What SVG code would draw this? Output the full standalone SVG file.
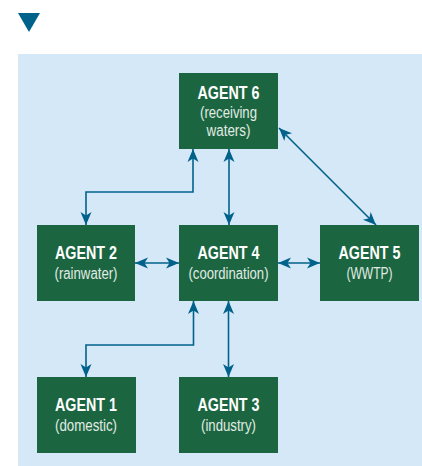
<svg xmlns="http://www.w3.org/2000/svg" width="422" height="466" viewBox="0 0 422 466">
<style>
.bg{fill:#D5E8F8}
.box{fill:#1B6640}
.t{font-family:"Liberation Sans",Arial,sans-serif;font-weight:bold;font-size:17.5px;fill:#FFFFFF;text-anchor:middle}
.s{font-family:"Liberation Sans",Arial,sans-serif;font-size:16px;fill:#E2EBE5;text-anchor:middle}
.c{fill:none;stroke:#00628B;stroke-width:1.6;marker-start:url(#ah);marker-end:url(#ah)}
</style>
<defs>
<marker id="ah" markerUnits="userSpaceOnUse" viewBox="-13 -7 14 14" refX="0" refY="0" markerWidth="14" markerHeight="14" orient="auto-start-reverse">
<path d="M0,0 L-13,-5.5 L-9.5,0 L-13,5.5 Z" fill="#00628B"/>
</marker>
</defs>
<polygon points="18,13 40,13 29,32" fill="#00628B"/>
<rect class="bg" x="18" y="54" width="404" height="412"/>
<g id="connectors">
<path class="c" d="M193,149 V192 H86 V225"/>
<path class="c" d="M229,149 V225"/>
<path class="c" d="M279,128 L376,225"/>
<path class="c" d="M135,263 H179"/>
<path class="c" d="M278,263 H320"/>
<path class="c" d="M193.5,301 V345 H86 V377"/>
<path class="c" d="M228.5,301 V377"/>
</g>
<g id="agent6">
<rect class="box" x="179" y="73" width="99" height="76"/>
<text class="t" x="228.5" y="99" textLength="62" lengthAdjust="spacingAndGlyphs">AGENT 6</text>
<text class="s" x="228.5" y="118" textLength="57" lengthAdjust="spacingAndGlyphs">(receiving</text>
<text class="s" x="228.5" y="136" textLength="44" lengthAdjust="spacingAndGlyphs">waters)</text>
</g>
<g id="agent2">
<rect class="box" x="37" y="225" width="98" height="76"/>
<text class="t" x="86" y="259" textLength="62" lengthAdjust="spacingAndGlyphs">AGENT 2</text>
<text class="s" x="86" y="279" textLength="63" lengthAdjust="spacingAndGlyphs">(rainwater)</text>
</g>
<g id="agent4">
<rect class="box" x="179" y="225" width="99" height="76"/>
<text class="t" x="228.5" y="259" textLength="62" lengthAdjust="spacingAndGlyphs">AGENT 4</text>
<text class="s" x="228.5" y="279" textLength="80" lengthAdjust="spacingAndGlyphs">(coordination)</text>
</g>
<g id="agent5">
<rect class="box" x="320" y="225" width="99" height="76"/>
<text class="t" x="369.5" y="259" textLength="62" lengthAdjust="spacingAndGlyphs">AGENT 5</text>
<text class="s" x="369.5" y="279" textLength="46" lengthAdjust="spacingAndGlyphs">(WWTP)</text>
</g>
<g id="agent1">
<rect class="box" x="37" y="377" width="99" height="76"/>
<text class="t" x="86" y="411" textLength="62" lengthAdjust="spacingAndGlyphs">AGENT 1</text>
<text class="s" x="86" y="431" textLength="62" lengthAdjust="spacingAndGlyphs">(domestic)</text>
</g>
<g id="agent3">
<rect class="box" x="179" y="377" width="99" height="76"/>
<text class="t" x="228.5" y="411" textLength="62" lengthAdjust="spacingAndGlyphs">AGENT 3</text>
<text class="s" x="228.5" y="431" textLength="55" lengthAdjust="spacingAndGlyphs">(industry)</text>
</g>
</svg>
